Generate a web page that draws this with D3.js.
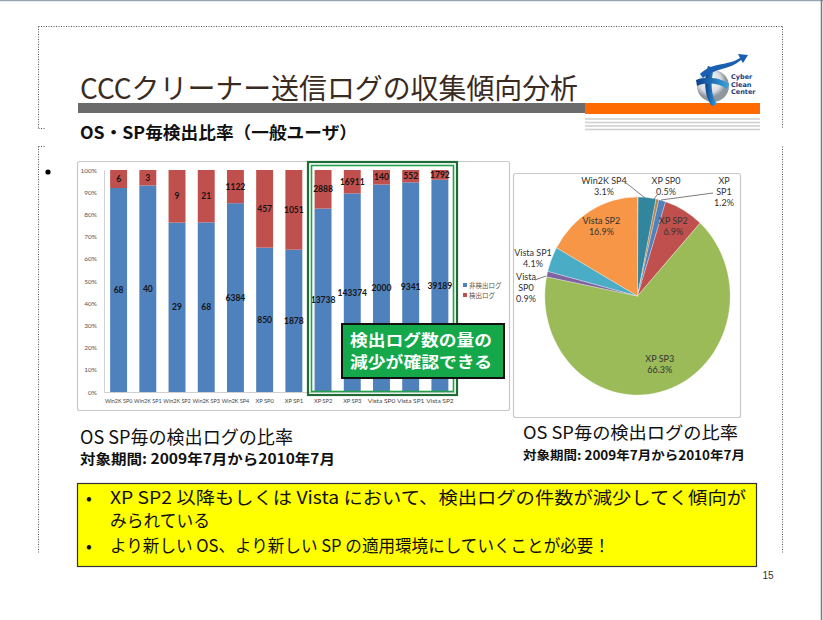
<!DOCTYPE html>
<html><head><meta charset="utf-8">
<script src="https://cdn.jsdelivr.net/npm/d3@7"></script>
<style>body{margin:0;background:#fff}svg{display:block}</style>
</head><body><svg id="c" width="823" height="620"></svg>
<script>
// ---------- data ----------
const categories = ["Win2K SP0","Win2K SP1","Win2K SP2","Win2K SP3","Win2K SP4","XP SP0","XP SP1","XP SP2","XP SP3","Vista SP0","Vista SP1","Vista SP2"];
const nonDetected = [68,40,29,68,6384,850,1878,13738,143374,2000,9341,39189];
const detected    = [6,3,9,21,1122,457,1051,2888,16911,140,552,1792];
const seriesNames = ["非検出ログ","検出ログ"];
const yTicks = [0,0.1,0.2,0.3,0.4,0.5,0.6,0.7,0.8,0.9,1];
const piePercent = [0.03,0.02,0.02,0.04,3.1,0.5,1.2,6.9,66.3,0.9,4.1,16.9];
const pieLabelLines = {
  "Win2K SP4":["Win2K SP4"], "XP SP0":["XP SP0"], "XP SP1":["XP","SP1"], "XP SP2":["XP SP2"],
  "XP SP3":["XP SP3"], "Vista SP0":["Vista","SP0"], "Vista SP1":["Vista SP1"], "Vista SP2":["Vista SP2"]
};
const bulletLines = [
  ["•","XP SP2 以降もしくは Vista において、検出ログの件数が減少してく傾向が"],
  ["","みられている"],
  ["•","より新しい OS、より新しい SP の適用環境にしていくことが必要！"]
];

// ---------- setup ----------
const svg = d3.select("#c");
const JP = "'Noto Sans CJK JP','Noto Sans',sans-serif";
const CAL = "Lato,'Open Sans',sans-serif";

// page frame lines
svg.append("line").attr("x1",0).attr("x2",823).attr("y1",0.5).attr("y2",0.5).attr("stroke","#9aa6b4").attr("stroke-width",1.5);
svg.append("line").attr("x1",821.5).attr("x2",821.5).attr("y1",0).attr("y2",620).attr("stroke","#777").attr("stroke-width",1.5);

// dotted placeholder boxes
const dot = {stroke:"#555","stroke-width":1,"stroke-dasharray":"1,1.5",fill:"none"};
function dl(x1,y1,x2,y2){const l=svg.append("line").attr("x1",x1).attr("y1",y1).attr("x2",x2).attr("y2",y2);for(const k in dot)l.attr(k,dot[k]);}
dl(38.5,26.5,782.5,26.5); dl(38.5,26.5,38.5,128.5); dl(782.5,26.5,782.5,128.5); dl(38.5,128.5,45,128.5);
dl(38.5,146.5,45,146.5); dl(38.5,146.5,38.5,553); dl(782.5,146.5,782.5,553);

// title
svg.append("text").attr("x",80).attr("y",99).attr("font-family",JP).attr("font-size",28.5)
  .attr("fill","#3b2b1e").attr("textLength",498).attr("lengthAdjust","spacingAndGlyphs")
  .text("CCCクリーナー送信ログの収集傾向分析");
svg.append("rect").attr("x",78).attr("y",103).attr("width",507).attr("height",10).attr("fill","#6b6b6b");
svg.append("rect").attr("x",585).attr("y",103).attr("width",175).attr("height",11).attr("fill","#ff6a00");
[119,122.5,126,129.5].forEach(y=>svg.append("rect").attr("x",585).attr("y",y-0.8).attr("width",175).attr("height",1.6).attr("fill","#d0d0d0"));

// logo
const defs = svg.append("defs");
const rg = defs.append("radialGradient").attr("id","sph").attr("cx","40%").attr("cy","35%");
rg.append("stop").attr("offset","0%").attr("stop-color","#ffffff");
rg.append("stop").attr("offset","70%").attr("stop-color","#d9dde2");
rg.append("stop").attr("offset","100%").attr("stop-color","#8e969e");
const lg = defs.append("linearGradient").attr("id","blu").attr("x1","0").attr("x2","1");
lg.append("stop").attr("offset","0%").attr("stop-color","#0d3f8c");
lg.append("stop").attr("offset","100%").attr("stop-color","#35a4e0");
const logo = svg.append("g");
logo.append("circle").attr("cx",713).attr("cy",86).attr("r",16).attr("fill","url(#sph)");
logo.append("path").attr("d","M708,66 C703,80 705,98 712,106 L717,104 C711,96 710,82 714,68 Z").attr("fill","url(#blu)");
logo.append("path").attr("d","M696,80 C705,76 720,77 729,84 L727,89 C719,83 706,82 697,86 Z").attr("fill","url(#blu)");
logo.append("path").attr("d","M700,74 C712,62 728,66 740,58 L738,54 L748,55 L743,63 L741,60 C730,70 714,68 703,78 Z").attr("fill","#1a5fb0");
["Cyber","Clean","Center"].forEach((t,i)=>logo.append("text").attr("x",731).attr("y",79+i*7.5)
  .attr("font-family","'DejaVu Sans',sans-serif").attr("font-size",6.5).attr("font-weight","bold").attr("fill","#1e3c80").text(t));

// subtitle
svg.append("text").attr("x",80).attr("y",139).attr("font-family",JP).attr("font-size",17).attr("font-weight","bold")
  .attr("fill","#111").attr("textLength",277).attr("lengthAdjust","spacingAndGlyphs").text("OS・SP毎検出比率（一般ユーザ）");
svg.append("circle").attr("cx",48).attr("cy",172).attr("r",2.6).attr("fill","#000");

// ---------- bar chart ----------
svg.append("rect").attr("x",77.5).attr("y",161.5).attr("width",432).attr("height",249).attr("rx",2)
  .attr("fill","#fff").attr("stroke","#c8c8c8").attr("stroke-width",1.2);

const x = d3.scaleBand().domain(categories).range([104,454.5]).paddingInner(0.42).paddingOuter(0.21);
const y = d3.scaleLinear().domain([0,1]).range([392,170]);
const colors = ["#4f81bd","#c0504d"];

const rows = categories.map((c,i)=>{const t=nonDetected[i]+detected[i];return {cat:c,nd:nonDetected[i]/t,d:detected[i]/t,ndv:nonDetected[i],dv:detected[i]};});
const stack = d3.stack().keys(["nd","d"])(rows);

const g = svg.append("g");
stack.forEach((s,si)=>{
  g.selectAll(null).data(s).enter().append("rect")
    .attr("x",d=>x(d.data.cat)).attr("width",x.bandwidth())
    .attr("y",d=>y(d[1])).attr("height",d=>y(d[0])-y(d[1])).attr("fill",colors[si]);
});
stack.forEach((s,si)=>{
  g.selectAll(null).data(s).enter().append("text")
    .attr("x",d=>x(d.data.cat)+x.bandwidth()/2).attr("y",d=>(y(d[0])+y(d[1]))/2+3)
    .attr("text-anchor","middle").attr("font-family",CAL).attr("font-size",8.5).attr("font-weight","bold")
    .attr("fill","#141414").text(d=>si===0?d.data.ndv:d.data.dv);
});
const yAxis = d3.axisLeft(y).tickValues(yTicks).tickFormat(d3.format(".0%")).tickSize(0).tickPadding(7);
const ya = svg.append("g").attr("transform","translate(104,0)").call(yAxis);
ya.select(".domain").attr("stroke","#d0d0d0");
ya.selectAll("text").attr("font-family",CAL).attr("font-size",6.5).attr("fill","#555");
const xAxis = d3.axisBottom(x).tickSize(0).tickPadding(7);
const xa = svg.append("g").attr("transform","translate(0,392)").call(xAxis);
xa.select(".domain").attr("stroke","#d0d0d0");
xa.selectAll("text").attr("font-family",CAL).attr("font-size",6).attr("fill","#444")
  .attr("textLength",d=>d.length*3.05).attr("lengthAdjust","spacingAndGlyphs");

// legend
seriesNames.forEach((n,i)=>{
  svg.append("rect").attr("x",463).attr("y",283+i*10).attr("width",4).attr("height",4).attr("fill",colors[i]);
  svg.append("text").attr("x",469).attr("y",287.5+i*10).attr("font-family",JP).attr("font-size",6.5).attr("fill","#555").text(n);
});

// highlight box
svg.append("rect").attr("x",308).attr("y",162).attr("width",149).attr("height",233).attr("fill","none").attr("stroke","#1e6b35").attr("stroke-width",2.2);
svg.append("rect").attr("x",311.5).attr("y",165.5).attr("width",142).attr("height",226).attr("fill","none").attr("stroke","#23a04a").attr("stroke-width",1.6);

// callout
svg.append("rect").attr("x",342).attr("y",324).attr("width",162).attr("height",54).attr("fill","#14a84a").attr("stroke","#111").attr("stroke-width",2);
["検出ログ数の量の","減少が確認できる"].forEach((t,i)=>svg.append("text").attr("x",350).attr("y",345.5+i*22.5)
  .attr("font-family",JP).attr("font-size",15.5).attr("font-weight","bold").attr("fill","#fff")
  .attr("textLength",142).attr("lengthAdjust","spacingAndGlyphs").text(t));

// ---------- pie ----------
svg.append("rect").attr("x",513.5).attr("y",173.5).attr("width",227).attr("height",244).attr("rx",2)
  .attr("fill","#fff").attr("stroke","#c8c8c8").attr("stroke-width",1.2);
const pieColors = ["#2c4d75","#772c2a","#5f7530","#4d3b62","#31859c","#b8834f","#4f81bd","#c0504d","#9bbb59","#8064a2","#4bacc6","#f79646"];
const cx=637.5, cy=296, R=99, sx=0.936;
const arcs = d3.pie().sort(null).value(d=>d)(piePercent);
const arc = d3.arc().innerRadius(0).outerRadius(R);
svg.append("g").attr("transform",`translate(${cx},${cy}) scale(${sx},1)`)
  .selectAll("path").data(arcs).enter().append("path").attr("d",arc).attr("fill",(d,i)=>pieColors[i])
  .attr("stroke","#fff").attr("stroke-width",0.3);

// label layout (positions of outside labels, not data)
const outside = {
  "Win2K SP4":{x:604,y:184,line:[[625,182],[645,198]]},
  "XP SP0":{x:666,y:184,line:[[657,195],[654,199]]},
  "XP SP1":{x:724,y:184,line:[[713,193],[661,200]]},
  "Vista SP1":{x:533,y:256},
  "Vista SP0":{x:526,y:280,line:[[535,280],[546,276]]}
};
const pt = d3.format(".1f");
arcs.forEach((a,i)=>{
  const c = categories[i];
  if(!pieLabelLines[c]) return;
  const lines = pieLabelLines[c].concat([pt(piePercent[i])+"%"]);
  let px,py;
  if(outside[c]){px=outside[c].x;py=outside[c].y;
    if(outside[c].line) svg.append("polyline").attr("points",outside[c].line.map(p=>p.join(",")).join(" ")).attr("fill","none").attr("stroke","#444").attr("stroke-width",0.7);
  } else {
    const m=(a.startAngle+a.endAngle)/2, r=R*0.77;
    px=cx+Math.sin(m)*r*sx; py=cy-Math.cos(m)*r-6;
  }
  lines.forEach((t,j)=>svg.append("text").attr("x",px).attr("y",py+j*11).attr("text-anchor","middle")
    .attr("font-family",CAL).attr("font-size",9).attr("fill","#333").text(t));
});

// ---------- captions ----------
svg.append("text").attr("x",80).attr("y",444).attr("font-family",JP).attr("font-size",18).attr("fill","#111")
  .attr("textLength",213).attr("lengthAdjust","spacingAndGlyphs").text("OS SP毎の検出ログの比率");
svg.append("text").attr("x",80).attr("y",464).attr("font-family",JP).attr("font-size",14).attr("font-weight","bold").attr("fill","#111")
  .attr("textLength",255).attr("lengthAdjust","spacingAndGlyphs").text("対象期間: 2009年7月から2010年7月");
svg.append("text").attr("x",523).attr("y",439).attr("font-family",JP).attr("font-size",17.5).attr("fill","#111")
  .attr("textLength",215).attr("lengthAdjust","spacingAndGlyphs").text("OS SP毎の検出ログの比率");
svg.append("text").attr("x",523).attr("y",459.5).attr("font-family",JP).attr("font-size",12.5).attr("font-weight","bold").attr("fill","#111")
  .attr("textLength",222).attr("lengthAdjust","spacingAndGlyphs").text("対象期間: 2009年7月から2010年7月");

// ---------- yellow box ----------
svg.append("rect").attr("x",77.5).attr("y",483.5).attr("width",679).attr("height",83).attr("fill","#ffff00").attr("stroke","#333").attr("stroke-width",1.2);
const lineY=[504,527,552], lens=[636,100,500];
bulletLines.forEach((l,i)=>{
  if(l[0]) svg.append("text").attr("x",86).attr("y",lineY[i]).attr("font-family",JP).attr("font-size",17).attr("fill","#111").text(l[0]);
  svg.append("text").attr("x",110).attr("y",lineY[i]).attr("font-family",JP).attr("font-size",17.5).attr("fill","#111")
    .attr("textLength",lens[i]).attr("lengthAdjust","spacingAndGlyphs").text(l[1]);
});
svg.append("text").attr("x",768).attr("y",579).attr("text-anchor","middle").attr("font-family","'Liberation Sans',sans-serif").attr("font-size",10).attr("fill","#333").text("15");
</script></body></html>
